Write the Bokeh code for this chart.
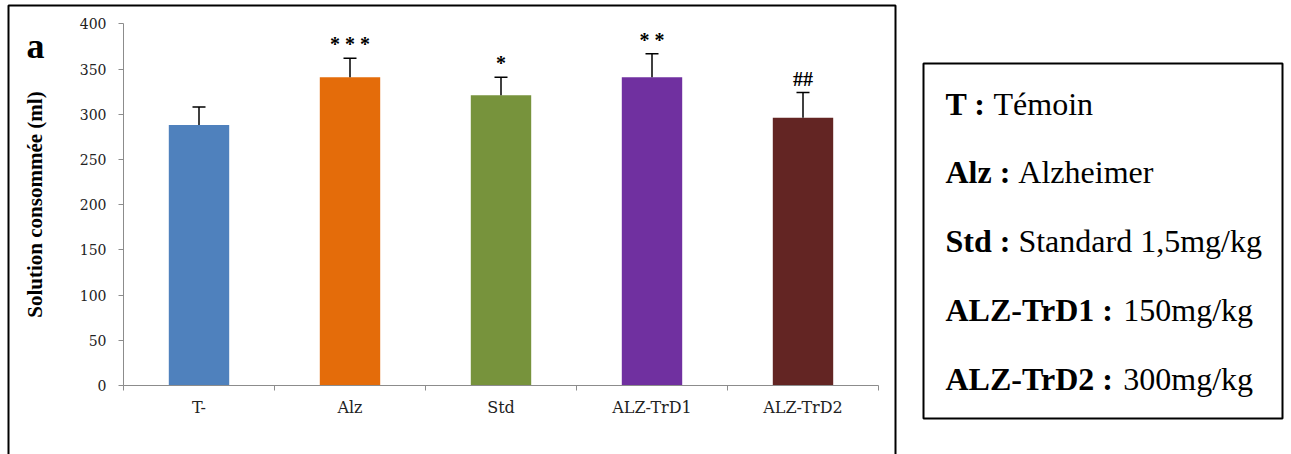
from bokeh.plotting import figure
from bokeh.models import (ColumnDataSource, Range1d, LinearAxis,
                          FixedTicker, Whisker, TeeHead)
from bokeh.core.properties import value
from bokeh.embed import file_html
from bokeh.resources import INLINE

# ---- data ----
categories = ["T-", "Alz", "Std", "ALZ-TrD1", "ALZ-TrD2"]
means = [288, 341, 321, 341, 296]
errors = [20, 21, 20, 26, 28]
marks = ["", "* * *", "*", "* *", "##"]
colors = ["#4F81BD", "#E46C0A", "#77933C", "#7030A0", "#632523"]
y_ticks = [0, 50, 100, 150, 200, 250, 300, 350, 400]
legend_bold = ["T :", "Alz :", "Std :", "ALZ-TrD1 :", "ALZ-TrD2 :"]
legend_text = ["Témoin", "Alzheimer", "Standard 1,5mg/kg", "150mg/kg", "300mg/kg"]

n = len(categories)
pos = [i + 0.5 for i in range(n)]          # category centres on a linear scale
bounds = [i for i in range(n + 1)]          # category boundaries (tick marks)
YMAX = 400

src = ColumnDataSource(dict(x=pos, cat=categories, val=means,
                            upper=[m + e for m, e in zip(means, errors)],
                            mark=marks, color=colors))

# ---- layout (pixels) ----
W, H = 1291, 454
AX_L, AX_R = 123, 878      # x of category axis ends
AX_B, AX_T = 385, 23.3     # y of value 0 and value YMAX
sx = (AX_R - AX_L) / n
sy = (AX_B - AX_T) / YMAX
x_range = Range1d(-AX_L / sx, n + (W - AX_R) / sx)
y_range = Range1d(-(H - AX_B) / sy, YMAX + AX_T / sy)

p = figure(width=W, height=H, x_range=x_range, y_range=y_range,
           x_axis_type=None, y_axis_type=None,
           output_backend="svg", toolbar_location=None,
           min_border_left=0, min_border_right=0, min_border_top=0, min_border_bottom=0)
p.outline_line_color = None
p.background_fill_color = "white"
p.border_fill_color = "white"
# pixel coordinate system for page decorations (frame, legend box, texts)
p.extra_x_ranges = {"px": Range1d(0, W)}
p.extra_y_ranges = {"px": Range1d(H, 0)}

AX = "#8C8C8C"
# y axis
yax = LinearAxis(ticker=FixedTicker(ticks=y_ticks), fixed_location=0, bounds=(0, YMAX))
yax.axis_line_color = AX
yax.major_tick_line_color = AX
yax.major_tick_out = 5
yax.major_tick_in = 0
yax.minor_tick_line_color = None
yax.major_label_text_font = "DejaVu Serif"
yax.major_label_text_font_size = "14px"
yax.major_label_text_color = "#222222"
yax.major_label_standoff = 12
yax.axis_label = "Solution consommée (ml)"
yax.axis_label_text_font = "Liberation Serif"
yax.axis_label_text_font_style = "bold"
yax.axis_label_text_font_size = "21px"
yax.axis_label_text_color = "black"
yax.axis_label_standoff = 30
p.add_layout(yax, "left")

# x axis: labels at centres, tick marks at category boundaries
xax = LinearAxis(ticker=FixedTicker(ticks=pos, minor_ticks=bounds), fixed_location=0, bounds=(0, n))
xax.major_label_overrides = {x: c for x, c in zip(pos, categories)}
xax.axis_line_color = AX
xax.major_tick_line_color = None
xax.major_tick_out = 0
xax.major_tick_in = 0
xax.minor_tick_line_color = AX
xax.minor_tick_out = 5
xax.minor_tick_in = 0
xax.major_label_standoff = 7
xax.major_label_text_font = "DejaVu Serif"
xax.major_label_text_font_size = "16px"
xax.major_label_text_color = "#222222"
p.add_layout(xax, "below")

# bars
p.vbar(x="x", top="val", width=0.4, source=src, fill_color="color", line_color=None)

# error bars (upper only)
wh = Whisker(source=src, base="x", lower="val", upper="upper", dimension="height",
             line_color="black", line_width=1.5, level="overlay",
             upper_head=TeeHead(size=13, line_color="black", line_width=1.5), lower_head=None)
p.add_layout(wh)

# significance marks
p.text(x="x", y="upper", text="mark", source=src, y_offset=-14,
       text_align="center", text_baseline="alphabetic",
       text_font=value("Liberation Serif"), text_font_style="bold",
       text_font_size="20px", text_color="black")

# panel letter
p.text(x=[26], y=[45], text=["a"], x_range_name="px", y_range_name="px",
       text_font=value("Liberation Serif"), text_font_style="bold",
       text_font_size="36px", text_baseline="alphabetic", text_align="left", text_color="black")

# outer frame (open at the bottom)
p.line(x=[8, 8, 895, 895], y=[H + 10, 5, 5, H + 10], x_range_name="px", y_range_name="px",
       line_color="black", line_width=2)

# legend box
p.quad(left=[923], right=[1282], top=[63], bottom=[418], x_range_name="px", y_range_name="px",
       fill_color=None, line_color="black", line_width=2)

# legend text: widths of bold part (Times/Liberation Serif Bold metrics, per 1000 em)
bold_w = {"T": 667, " ": 250, ":": 333, "A": 722, "l": 278, "z": 444, "S": 556, "t": 333,
          "d": 556, "L": 667, "Z": 667, "-": 333, "r": 444, "D": 722, "1": 500, "2": 500}
FS = 32
x0 = 945
base0, step = 103, 68.75
ys = [base0 + i * step for i in range(len(legend_bold))]
xr = [x0 + sum(bold_w.get(c, 500) for c in b + " ") * FS / 1000 for b in legend_bold]
p.text(x=[x0] * len(legend_bold), y=ys, text=legend_bold, x_range_name="px", y_range_name="px",
       text_font=value("Liberation Serif"), text_font_style="bold", text_font_size=f"{FS}px",
       text_baseline="alphabetic", text_align="left", text_color="black")
p.text(x=xr, y=ys, text=legend_text, x_range_name="px", y_range_name="px",
       text_font=value("Liberation Serif"), text_font_size=f"{FS}px",
       text_baseline="alphabetic", text_align="left", text_color="black")

open("out.html", "w").write(file_html(p, INLINE))
